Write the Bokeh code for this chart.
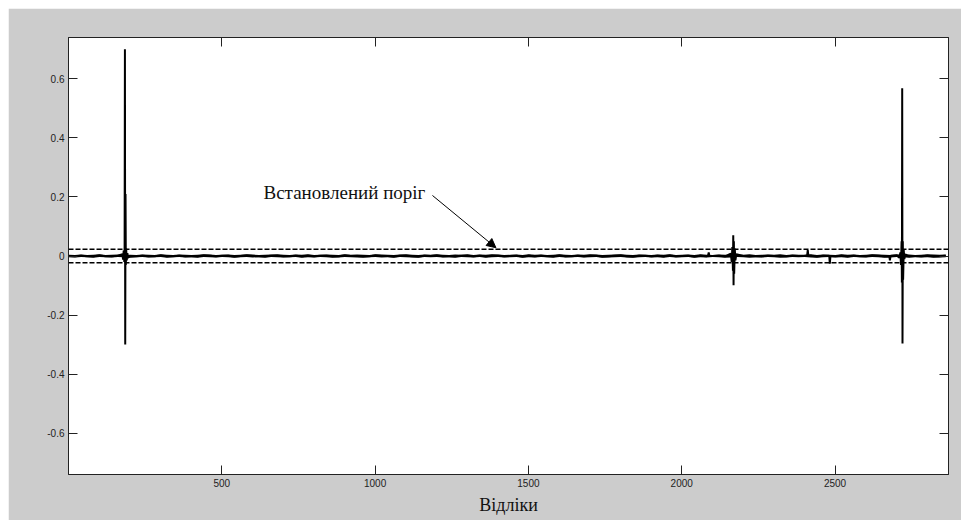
from bokeh.plotting import figure
from bokeh.models import (Range1d, FixedTicker, LinearAxis, Span, Arrow, NormalHead, Label,
                          CustomJSTickFormatter)
from bokeh.embed import file_html
from bokeh.resources import INLINE

# ---- data ----
x_max = 2870
y_lim = 0.74
threshold = 0.023

# background noise envelope, one value every 20 samples (sample 1, 21, 41, ...)
noise_step = 20
noise_hi = [
    0.004, 0.003, 0.005, 0.003, 0.004, 0.006, 0.003, 0.004, 0.005, 0.003, 0.004, 0.003,
    0.005, 0.004, 0.003, 0.006, 0.004, 0.003, 0.005, 0.004, 0.003, 0.004, 0.006, 0.005,
    0.003, 0.004, 0.005, 0.003, 0.004, 0.006, 0.005, 0.003, 0.004, 0.005, 0.006, 0.004,
    0.003, 0.005, 0.004, 0.006, 0.003, 0.004, 0.005, 0.004, 0.003, 0.006, 0.004, 0.005,
    0.004, 0.003, 0.006, 0.005, 0.004, 0.003, 0.005, 0.006, 0.004, 0.003, 0.005, 0.004,
    0.006, 0.004, 0.003, 0.005, 0.004, 0.006, 0.003, 0.005, 0.004, 0.006, 0.005, 0.003,
    0.004, 0.005, 0.003, 0.006, 0.004, 0.005, 0.003, 0.004, 0.006, 0.004, 0.003, 0.005,
    0.004, 0.006, 0.005, 0.003, 0.004, 0.005, 0.006, 0.004, 0.003, 0.005, 0.004, 0.003,
    0.005, 0.004, 0.006, 0.003, 0.004, 0.005, 0.003, 0.006, 0.004, 0.003, 0.005, 0.004,
    0.003, 0.005, 0.004, 0.006, 0.003, 0.004, 0.005, 0.004, 0.006, 0.003, 0.005, 0.004,
    0.004, 0.006, 0.003, 0.005, 0.004, 0.003, 0.006, 0.004, 0.005, 0.003, 0.004, 0.006,
    0.005, 0.004, 0.003, 0.006, 0.004, 0.005, 0.003, 0.004, 0.006, 0.005, 0.004, 0.005,
]
noise_lo = [
    -0.004, -0.005, -0.003, -0.004, -0.006, -0.003, -0.004, -0.005, -0.003, -0.004, -0.006, -0.004,
    -0.003, -0.005, -0.004, -0.003, -0.006, -0.004, -0.003, -0.005, -0.004, -0.006, -0.003, -0.004,
    -0.005, -0.003, -0.004, -0.006, -0.004, -0.003, -0.005, -0.004, -0.006, -0.003, -0.004, -0.005,
    -0.004, -0.003, -0.006, -0.004, -0.005, -0.003, -0.004, -0.006, -0.005, -0.003, -0.004, -0.005,
    -0.006, -0.004, -0.003, -0.005, -0.004, -0.006, -0.003, -0.004, -0.005, -0.006, -0.003, -0.004,
    -0.003, -0.005, -0.004, -0.006, -0.003, -0.004, -0.005, -0.003, -0.006, -0.004, -0.003, -0.005,
    -0.004, -0.003, -0.006, -0.004, -0.005, -0.003, -0.004, -0.006, -0.003, -0.005, -0.004, -0.003,
    -0.005, -0.004, -0.003, -0.006, -0.005, -0.004, -0.003, -0.005, -0.006, -0.004, -0.003, -0.005,
    -0.004, -0.006, -0.003, -0.005, -0.004, -0.003, -0.006, -0.004, -0.005, -0.003, -0.004, -0.006,
    -0.005, -0.003, -0.004, -0.006, -0.004, -0.005, -0.003, -0.004, -0.006, -0.005, -0.003, -0.004,
    -0.003, -0.005, -0.006, -0.004, -0.003, -0.005, -0.004, -0.006, -0.003, -0.004, -0.005, -0.003,
    -0.004, -0.006, -0.005, -0.003, -0.004, -0.006, -0.003, -0.005, -0.004, -0.006, -0.005, -0.004,
]

# spikes and small events: sample index / amplitude
event_x = [176, 178, 180, 182, 183, 184, 185, 186, 187, 188, 190, 192, 194,
           2086, 2088, 2090,
           2160, 2163, 2165, 2167, 2168, 2169, 2170, 2171, 2173, 2175, 2178,
           2409, 2411, 2413, 2481, 2483, 2485, 2677, 2679, 2681,
           2710, 2713, 2715, 2717, 2718, 2719, 2720, 2721, 2722, 2724, 2726, 2729]
event_y = [0.006, -0.012, 0.018, -0.02, 0.03, 0.70, -0.30, 0.21, -0.03, 0.025, -0.015, 0.01, -0.006,
           0.002, 0.012, 0.001,
           0.008, -0.02, 0.03, -0.05, 0.07, -0.099, 0.05, -0.06, 0.025, -0.015, 0.006,
           0.002, 0.02, 0.001, 0.001, -0.026, 0.0, -0.002, -0.015, 0.001,
           -0.006, 0.012, -0.03, 0.05, -0.09, 0.568, -0.296, 0.05, -0.08, 0.02, -0.01, 0.005]

x_ticks = [500, 1000, 1500, 2000, 2500]
y_ticks = [-0.6, -0.4, -0.2, 0, 0.2, 0.4, 0.6]
y_tick_labels = ["-0.6", "-0.4", "-0.2", "0", "0.2", "0.4", "0.6"]

x_label = "Відліки"
note_text = "Встановлений поріг"
note_x, note_y = 636, 0.2135
arrow_from = (1187, 0.205)
arrow_to = (1394, 0.028)

# ---- build signal ----
noise_x = [1 + i * noise_step for i in range(len(noise_hi))]
pts = {}
for nx, hi, lo in zip(noise_x, noise_hi, noise_lo):
    pts[nx] = (hi + lo) / 2
for ex in event_x:
    for k in list(pts.keys()):
        if abs(k - ex) < 5:
            del pts[k]
for ex, ey in zip(event_x, event_y):
    pts[ex] = ey
xs = [k for k in sorted(pts.keys()) if k <= x_max]
ys = [pts[k] for k in xs]

# ---- figure ----
p = figure(frame_width=880, frame_height=437,
           x_range=Range1d(0, x_max), y_range=Range1d(-y_lim, y_lim),
           output_backend="svg", toolbar_location=None,
           min_border_left=60, min_border_right=13, min_border_top=29, min_border_bottom=46,
           background_fill_color="white", border_fill_color="#cccccc",
           outline_line_color="#222222", outline_line_width=1,
           margin=(8, 0, 0, 8))
p.grid.visible = False

p.varea(x=noise_x, y1=noise_lo, y2=noise_hi, fill_color="black")
p.line(xs, ys, line_color="black", line_width=2)

for t in (threshold, -threshold):
    p.add_layout(Span(location=t, dimension="width", line_color="black",
                      line_width=1.5, line_dash="5 2"))

p.add_layout(Arrow(end=NormalHead(size=9, fill_color="black", line_color="black", line_width=1),
                   x_start=arrow_from[0], y_start=arrow_from[1],
                   x_end=arrow_to[0], y_end=arrow_to[1],
                   line_color="black", line_width=1))
p.add_layout(Label(x=note_x, y=note_y, text=note_text, text_font="Liberation Serif",
                   text_font_size="19px", text_color="#111111", text_baseline="alphabetic"))

def style(ax, ticks, show_labels):
    ax.ticker = FixedTicker(ticks=ticks)
    ax.major_tick_in = 9
    ax.major_tick_out = 0
    ax.minor_tick_in = 0
    ax.minor_tick_out = 0
    ax.axis_line_color = "#222222"
    ax.major_tick_line_color = "#222222"
    ax.major_label_standoff = 4
    if show_labels:
        ax.major_label_text_font = "Liberation Sans"
        ax.major_label_text_font_size = "10px"
        ax.major_label_text_color = "#222222"
    else:
        ax.formatter = CustomJSTickFormatter(code="return ''")
        ax.major_label_standoff = 0

style(p.xaxis[0], x_ticks, True)
style(p.yaxis[0], y_ticks, True)
p.yaxis[0].major_label_overrides = dict(zip(y_ticks, y_tick_labels))
p.xaxis[0].axis_label = x_label
p.xaxis[0].axis_label_text_font = "Liberation Serif"
p.xaxis[0].axis_label_text_font_size = "18px"
p.xaxis[0].axis_label_text_font_style = "normal"
p.xaxis[0].axis_label_text_color = "#111111"
p.xaxis[0].axis_label_standoff = 5

top = LinearAxis()
style(top, x_ticks, False)
p.add_layout(top, "above")
right = LinearAxis()
style(right, y_ticks, False)
p.add_layout(right, "right")

open("out.html", "w").write(file_html(p, INLINE))
